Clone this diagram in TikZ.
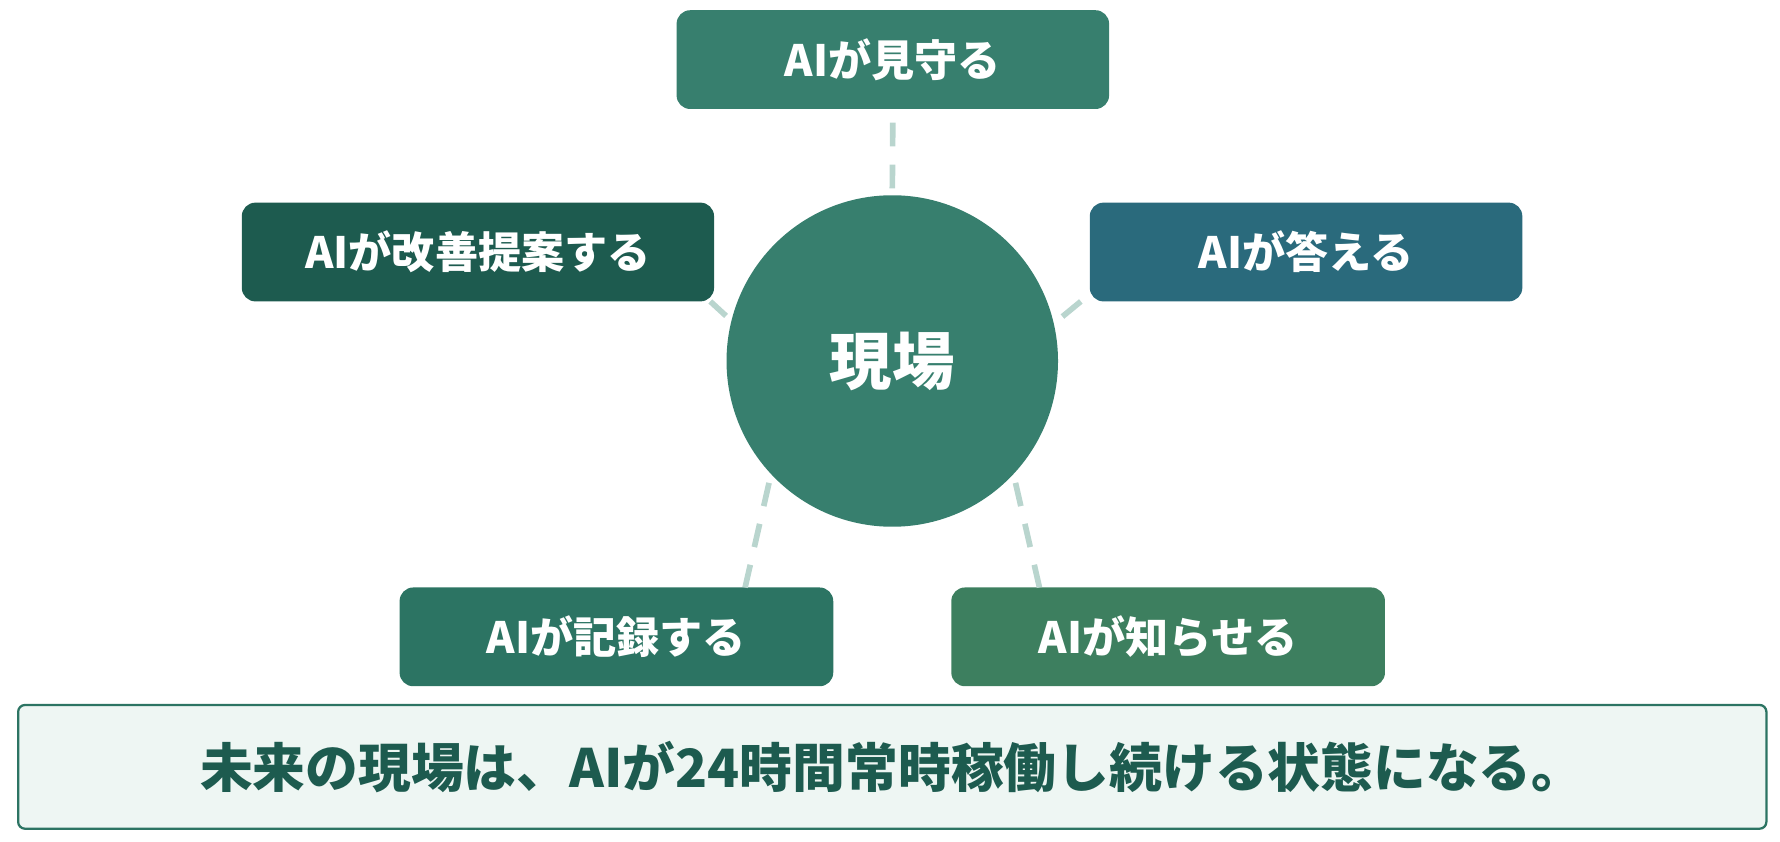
\documentclass[tikz,border=0pt]{standalone}
\usepackage{fontspec}
\setmainfont{Noto Sans CJK JP}
\usetikzlibrary{positioning}
\definecolor{fieldgreen}{RGB}{55,127,110}
\definecolor{deepgreen}{RGB}{29,91,79}
\definecolor{seablue}{RGB}{42,106,124}
\definecolor{pinegreen}{RGB}{44,116,99}
\definecolor{leafgreen}{RGB}{61,127,95}
\definecolor{mintwash}{RGB}{238,246,243}
\definecolor{linkgray}{RGB}{185,213,206}
\tikzset{
    % Box styles
    role box/.style={
        fill=#1,
        rectangle,
        rounded corners=12pt,
        minimum width=381pt,
        minimum height=87pt,
        inner sep=0pt,
        outer sep=0pt,
        text=white,
        font=\fontsize{38}{44}\selectfont\bfseries
    },
    hub node/.style={
        circle,
        fill=fieldgreen,
        minimum size=292pt,
        inner sep=0pt,
        outer sep=0pt,
        text=white,
        font=\fontsize{55}{62}\selectfont\bfseries
    },
    summary box/.style={
        draw=pinegreen,
        line width=2pt,
        fill=mintwash,
        rectangle,
        rounded corners=6pt,
        minimum width=1540pt,
        minimum height=109pt,
        inner sep=0pt,
        text=deepgreen,
        font=\fontsize{46.5}{52}\selectfont\bfseries
    },
    % Line styles
    link line/.style={
        draw=linkgray,
        line width=5pt,
        dash pattern=on 21pt off 16pt
    }
}

\begin{document}
\begin{tikzpicture}[x=1pt, y=-1pt]
    \useasboundingbox (0,0) rectangle (1568,741);
    % centre and the five roles
    \node[hub node] (hub) at (786,318) {現場};
    \node[role box=fieldgreen] (watch) at (786.5,52.5) {AIが見守る};
    \node[role box=deepgreen, minimum width=416pt] (improve) at (421,222) {AIが改善提案する};
    \node[role box=seablue] (answer) at (1150.5,222) {AIが答える};
    \node[role box=pinegreen, minimum width=382pt] (record) at (543,561) {AIが記録する};
    \node[role box=leafgreen, minimum width=382pt] (notify) at (1029,561) {AIが知らせる};
    % summary
    \node[summary box] (future) at (786,675.5) {未来の現場は、AIが24時間常時稼働し続ける状態になる。};
    % dashed links
    \draw[link line, shorten <=6pt] (hub.north) -- (watch.south);
    \draw[link line, shorten <=6.5pt] (hub.166.5) -- (improve.348);
    \draw[link line, shorten <=9.9pt] (hub.13) -- (answer.191);
    \draw[link line, shorten <=8pt] (hub.223) -- (record.21);
    \draw[link line, shorten <=8pt] (hub.317) -- (notify.159);
\end{tikzpicture}
\end{document}
